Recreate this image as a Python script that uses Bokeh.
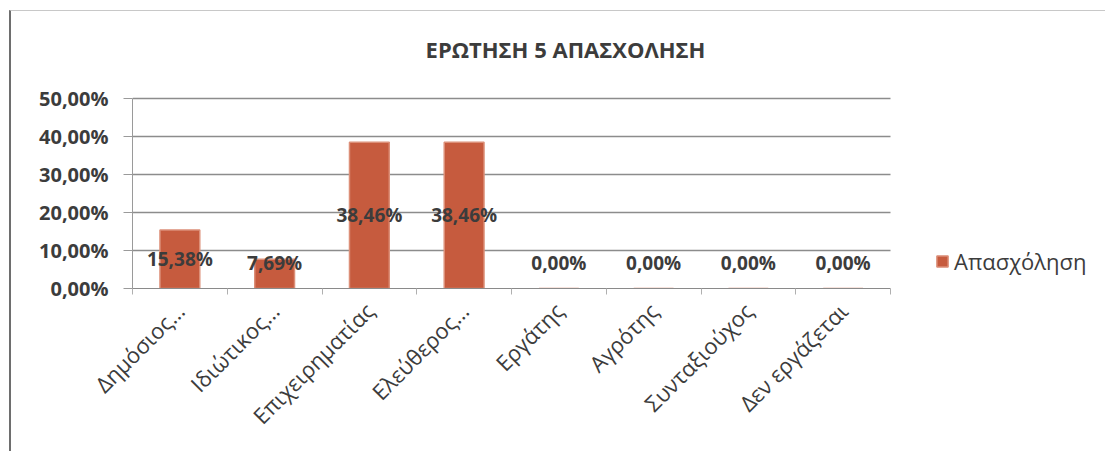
from bokeh.plotting import figure
from bokeh.models import ColumnDataSource, FixedTicker, Legend, LegendItem, Label, Range1d
from bokeh.core.properties import value
from bokeh.embed import file_html
from bokeh.resources import INLINE
import math

title_text = "ΕΡΩΤΗΣΗ 5 ΑΠΑΣΧΟΛΗΣΗ"
series_name = "Απασχόληση"
categories = ["Δημόσιος…", "Ιδιώτικος…", "Επιχειρηματίας", "Ελεύθερος…",
              "Εργάτης", "Αγρότης", "Συνταξιούχος", "Δεν εργάζεται"]
values = [15.38, 7.69, 38.46, 38.46, 0.0, 0.0, 0.0, 0.0]
y_ticks = [0, 10, 20, 30, 40, 50]
y_tick_labels = ["0,00%", "10,00%", "20,00%", "30,00%", "40,00%", "50,00%"]

FONT = "Open Sans"
TXT = "#3c3c3c"

n = len(categories)
y_max = y_ticks[-1]
xpos = [i + 0.5 for i in range(n)]
bounds_x = [float(i) for i in range(n + 1)]
labels = [("%.2f%%" % v).replace(".", ",") for v in values]
label_y = [max(v / 2.0, 6.8) for v in values]

src = ColumnDataSource(dict(x=xpos, cat=categories, val=values, lab=labels, ly=label_y))

# layout (pixels): category plot area is 758 x 190; the frame extends right (legend) and up (title)
AREA_W, AREA_H = 758.0, 190.0
FRAME_W, FRAME_H = 968, 277
x_end = n * FRAME_W / AREA_W
y_end = y_max * FRAME_H / AREA_H
px_x = n / AREA_W
px_y = y_max / AREA_H

p = figure(x_range=Range1d(0, x_end), y_range=Range1d(0, y_end), width=1096, height=441,
           output_backend="svg", toolbar_location=None,
           min_border_left=121, min_border_right=1096 - 121 - FRAME_W,
           min_border_top=0, min_border_bottom=441 - FRAME_H)
p.outline_line_color = None
p.background_fill_color = "white"
p.border_fill_color = "white"
p.styles = {"border-left": "2px solid #6e6e6e", "border-top": "1px solid #c8c8c8",
            "margin-left": "9px", "margin-top": "10px"}

p.add_layout(Label(x=433 * px_x, y=y_max + 50 * px_y, text=title_text,
                   text_align="center", text_baseline="middle",
                   text_font=FONT, text_font_size="22px", text_font_style="bold",
                   text_color=TXT))

# horizontal gridlines spanning only the category area
grid_y = y_ticks[1:]
p.segment(x0=[0] * len(grid_y), x1=[n] * len(grid_y), y0=grid_y, y1=grid_y,
          line_color="#8c8c8c", line_width=1.5)

r = p.vbar(x="x", top="val", width=0.42, source=src,
           fill_color="#C65B3E", line_color="#DC8F78", line_width=1.5)

p.text(x="x", y="ly", text="lab", source=src, text_align="center", text_baseline="middle",
       text_font=value(FONT), text_font_size="19px", text_font_style="bold", text_color=TXT)

p.yaxis.ticker = FixedTicker(ticks=y_ticks)
p.yaxis.bounds = (0, y_max)
p.yaxis.major_label_overrides = {tk: lb for tk, lb in zip(y_ticks, y_tick_labels)}
p.yaxis.major_label_text_font = FONT
p.yaxis.major_label_text_font_size = "20px"
p.yaxis.major_label_text_font_style = "bold"
p.yaxis.major_label_text_color = TXT
p.yaxis.axis_line_color = "#9a9a9a"
p.yaxis.major_tick_line_color = "#9a9a9a"
p.yaxis.major_tick_out = 9
p.yaxis.major_tick_in = 0
p.yaxis.minor_tick_line_color = None
p.yaxis.major_label_standoff = 15

p.xaxis.ticker = FixedTicker(ticks=xpos, minor_ticks=bounds_x)
p.xaxis.major_label_overrides = {x: c for x, c in zip(xpos, categories)}
p.xaxis.bounds = (0, n)
p.xaxis.major_label_orientation = math.pi / 4
p.xaxis.major_label_text_font = FONT
p.xaxis.major_label_text_font_size = "22px"
p.xaxis.major_label_text_color = TXT
p.xaxis.axis_line_color = "#8a8a8a"
p.xaxis.major_tick_line_color = None
p.xaxis.minor_tick_line_color = "#b0b0b0"
p.xaxis.minor_tick_out = 6
p.xaxis.minor_tick_in = 0
p.xaxis.major_label_standoff = 12

p.xgrid.grid_line_color = None
p.ygrid.grid_line_color = None

legend = Legend(items=[LegendItem(label=series_name, renderers=[r])],
                location=(803, 12), border_line_color=None, background_fill_alpha=0,
                padding=0, margin=0, glyph_width=14, glyph_height=14, label_standoff=5,
                label_text_font=FONT, label_text_font_size="22px", label_text_color=TXT)
p.add_layout(legend, "center")

open("out.html", "w").write(file_html(p, INLINE))
